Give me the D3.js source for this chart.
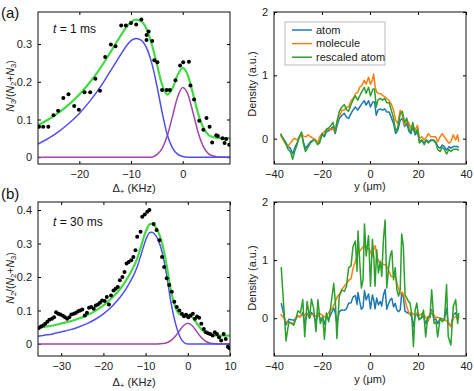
<!DOCTYPE html>
<html><head><meta charset="utf-8">
<script src="https://cdn.jsdelivr.net/npm/d3@7"></script>
<style>
body{margin:0;background:#fff;}
svg{display:block;font-family:"Liberation Sans",Arial,sans-serif;}
</style></head><body>
<svg id="c" width="474" height="391"></svg>
<script>
// ---------- Panel (a) left: fit ----------
const aDotsX = [-27.8,-27.0,-26.0,-25.0,-24.1,-23.1,-22.1,-21.0,-20.1,-19.0,-17.9,-16.9,-16.0,-15.0,-13.9,-13.0,-11.9,-11.0,-10.0,-9.0,-8.0,-7.0,-7.0,-6.6,-5.9,-5.5,-4.9,-4.0,-3.1,-2.5,-1.4,-0.5,0.1,1.2,1.5,2.2,3.2,4.0,4.6,5.2,5.7,6.5,6.8,7.7,8.1,8.4,9.0];
const aDotsY = [0.081,0.081,0.081,0.111,0.123,0.157,0.167,0.136,0.126,0.172,0.172,0.208,0.176,0.266,0.299,0.294,0.349,0.349,0.356,0.352,0.365,0.311,0.324,0.333,0.308,0.257,0.252,0.178,0.178,0.178,0.204,0.243,0.252,0.253,0.19,0.153,0.097,0.073,0.104,0.081,0.039,0.058,0.056,0.05,0.038,0.048,0.033];
const aFitX = [-28,-26,-24,-22,-20,-18,-16,-14,-12,-11,-10,-9,-8,-7,-6,-5,-4,-3,-2,-1,0,1,2,3,4,5,6,7,9.15];
const aBlue = [0.035,0.05,0.068,0.09,0.116,0.148,0.185,0.228,0.272,0.293,0.309,0.315,0.31,0.29,0.25,0.19,0.12,0.06,0.025,0.008,0.002,0,0,0,0,0,0,0,0];
const aPurple = [0,0,0,0,0,0,0,0,0,0,0,0,0,0,0,0.007,0.023,0.056,0.107,0.159,0.185,0.167,0.118,0.065,0.028,0.009,0.003,0.0005,0];
const aGreen = [0.085,0.1,0.118,0.14,0.166,0.198,0.235,0.278,0.322,0.343,0.359,0.365,0.36,0.34,0.3,0.247,0.193,0.166,0.182,0.217,0.237,0.217,0.168,0.115,0.078,0.059,0.053,0.0505,0.05];

// ---------- Panel (a) right: density ----------
const aRX = [-37.3,-36.2,-35.2,-34.1,-33.2,-32.2,-31.4,-30.4,-29.4,-28.5,-27.8,-26.9,-25.8,-24.8,-23.7,-22.8,-21.8,-21.0,-20.0,-19.0,-18.2,-17.2,-16.2,-15.4,-14.5,-13.8,-12.8,-11.7,-10.7,-9.8,-8.9,-7.9,-7.1,-6.1,-5.1,-4.3,-3.4,-2.4,-1.6,-0.6,0.2,1.2,1.9,2.6,3.3,4.3,5.2,6.1,7.0,8.0,8.8,9.8,10.7,11.6,12.6,13.5,14.4,15.3,16.3,17.1,17.8,18.8,19.8,20.6,21.6,22.6,23.4,24.3,25.3,26.4,27.4,28.2,29.2,30.1,31.0,31.9,32.9,33.7,34.7,35.7,36.5,37.0];
const aAtom = [0.06,0.005,-0.05,-0.125,-0.15,-0.24,-0.15,-0.07,0.03,0.08,-0.05,-0.15,-0.1,-0.05,-0.02,-0.02,-0.07,-0.05,0.06,0.03,0.11,0.125,0.16,0.19,0.08,0.19,0.32,0.37,0.4,0.34,0.32,0.4,0.45,0.5,0.45,0.5,0.55,0.6,0.53,0.6,0.5,0.58,0.58,0.37,0.45,0.47,0.45,0.47,0.42,0.42,0.34,0.24,0.08,0.135,0.29,0.32,0.19,0.24,0.11,0.08,0.19,0.06,0.11,-0.05,-0.02,-0.07,-0.02,-0.05,-0.02,-0.02,-0.05,-0.125,-0.15,-0.1,-0.125,-0.18,-0.125,-0.15,-0.125,-0.125,-0.125,-0.14];
const aRescaled = [0.08,0.007,-0.068,-0.169,-0.203,-0.324,-0.203,-0.095,0.041,0.108,-0.068,-0.203,-0.135,-0.068,-0.027,-0.027,-0.095,-0.068,0.081,0.041,0.149,0.169,0.216,0.257,0.108,0.257,0.432,0.5,0.54,0.459,0.432,0.54,0.608,0.675,0.608,0.675,0.743,0.81,0.716,0.81,0.675,0.783,0.783,0.5,0.608,0.635,0.608,0.635,0.567,0.567,0.459,0.324,0.108,0.182,0.392,0.432,0.257,0.324,0.149,0.108,0.257,0.081,0.149,-0.068,-0.027,-0.095,-0.027,-0.068,-0.027,-0.027,-0.068,-0.169,-0.203,-0.135,-0.169,-0.243,-0.169,-0.203,-0.169,-0.169,-0.169,-0.189];
const aMolX = [-37.3,-36.2,-35.2,-34.1,-33.2,-32.2,-31.4,-30.4,-29.4,-28.5,-27.6,-26.6,-25.8,-24.8,-23.7,-22.8,-21.8,-21.0,-20.0,-19.0,-18.2,-17.2,-16.2,-15.4,-14.5,-13.5,-12.6,-11.7,-10.7,-9.8,-8.9,-7.9,-7.1,-6.1,-5.1,-4.3,-3.4,-2.4,-1.6,-0.6,0.2,0.9,1.5,2.2,2.9,3.7,4.6,5.4,6.2,7.0,8.0,8.8,9.8,10.7,11.6,12.6,13.5,14.4,15.3,16.3,17.1,17.8,18.8,19.8,20.6,21.6,22.6,23.4,24.3,25.3,26.4,27.4,28.2,29.2,30.1,31.0,31.9,32.9,33.7,34.7,35.7,36.5,37.0];
const aMol = [0.06,-0.02,-0.08,-0.12,-0.07,-0.02,0.005,-0.02,0.02,0.06,0.04,0.03,0.06,0.03,0.005,-0.01,-0.07,0.03,0.08,0.11,0.135,0.16,0.135,0.16,0.11,0.32,0.37,0.45,0.45,0.5,0.5,0.6,0.63,0.71,0.73,0.81,0.84,0.92,0.86,0.97,0.86,0.92,1.02,0.81,0.73,0.71,0.71,0.68,0.66,0.63,0.6,0.55,0.45,0.29,0.24,0.45,0.37,0.21,0.29,0.24,0.16,0.21,0.135,0.21,0.005,0.03,-0.02,0.02,0.08,0.03,0.03,0.03,-0.05,0.03,0.08,0.03,-0.02,-0.07,-0.05,0.06,-0.02,0.06,-0.05];

// ---------- Panel (b) left: fit ----------
const bDotsX = [-35.3,-34.8,-34.3,-33.8,-33.3,-32.8,-32.2,-31.7,-31.2,-30.7,-30.2,-29.6,-29.1,-28.6,-28.1,-27.6,-27.0,-26.5,-26.0,-25.5,-25.0,-24.4,-23.9,-23.4,-22.9,-22.3,-21.8,-21.3,-20.8,-20.3,-19.7,-19.2,-18.7,-18.2,-17.6,-17.1,-16.6,-16.1,-15.5,-15.0,-14.5,-14.0,-13.4,-12.9,-12.4,-12.0,-11.2,-10.8,-10.2,-9.6,-9.1,-8.1,-7.4,-6.7,-6.1,-5.6,-5.0,-4.4,-3.8,-3.2,-2.6,-2.0,-1.4,-0.9,-0.4,0.1,0.6,1.2,1.7,2.2,2.7,3.2,3.8,4.3,4.8,5.3,5.9,6.4,6.9,7.4,7.9,8.5,9.0,9.5,9.9];
const bDotsY = [0.048,0.052,0.055,0.06,0.066,0.072,0.075,0.08,0.095,0.09,0.088,0.084,0.08,0.075,0.08,0.088,0.09,0.093,0.098,0.1,0.103,0.085,0.093,0.108,0.11,0.105,0.115,0.118,0.123,0.13,0.128,0.14,0.118,0.145,0.16,0.165,0.17,0.19,0.2,0.215,0.24,0.245,0.25,0.26,0.28,0.32,0.335,0.38,0.387,0.395,0.4,0.358,0.34,0.31,0.26,0.23,0.196,0.176,0.156,0.126,0.11,0.1,0.09,0.083,0.087,0.08,0.085,0.09,0.075,0.082,0.078,0.06,0.045,0.035,0.032,0.03,0.025,0.035,0.03,0.02,0.01,0.03,0.015,-0.008,-0.013];
const bFitX = [-35.5,-34,-32,-30,-28,-26,-24,-22,-20,-18,-16,-14,-12,-11,-10,-9,-8.5,-8,-7,-6,-5,-4,-3,-2,-1,0,1,2,3,4,5,6,7,10];
const bBlue = [0.023,0.026,0.03,0.036,0.042,0.05,0.06,0.073,0.09,0.112,0.14,0.178,0.23,0.27,0.31,0.333,0.334,0.33,0.31,0.27,0.205,0.125,0.065,0.025,0.005,0,0,0,0,0,0,0,0,0];
const bPurple = [0,0,0,0,0,0,0,0,0,0,0,0,0,0,0,0,0,0,0,0.001,0.0035,0.0099,0.022,0.039,0.055,0.062,0.055,0.039,0.022,0.0099,0.0035,0.001,0,0];
const bGreen = [0.048,0.051,0.055,0.061,0.067,0.075,0.085,0.098,0.115,0.137,0.165,0.203,0.255,0.295,0.335,0.358,0.359,0.355,0.335,0.296,0.234,0.16,0.112,0.089,0.085,0.087,0.08,0.064,0.047,0.035,0.029,0.026,0.025,0.025];

// ---------- Panel (b) right: density ----------
const bRX = [-37.0,-35.0,-33.8,-32.9,-31.8,-30.8,-30.0,-29.0,-28.0,-27.2,-26.2,-25.2,-24.4,-23.5,-22.5,-21.7,-20.7,-19.7,-19.0,-18.2,-17.2,-16.2,-15.1,-14.4,-13.8,-12.8,-11.7,-10.7,-9.8,-8.9,-7.9,-7.1,-6.1,-5.4,-5.0,-4.3,-3.6,-2.9,-2.3,-1.6,-0.6,0.2,1.0,1.6,2.1,2.8,3.5,4.3,4.9,5.6,6.3,7.0,7.7,8.4,9.1,9.8,10.5,11.2,11.9,12.6,13.2,13.9,14.6,15.3,16.0,16.7,17.4,18.1,18.8,19.5,20.4,21.3,22.3,23.2,24.1,25.0,25.7,26.7,27.5,28.2,29.2,30.1,31.0,31.9,32.6,33.7,34.7,35.7,36.5,37.0];
const bRescaled = [0.88,-0.39,-0.06,-0.08,-0.12,0,0.13,0.09,0.32,-0.32,0.29,0,0.33,0.17,-0.23,0.32,-0.09,0.03,-0.36,0.09,-0.06,0.26,0.6,0.26,-0.35,0.38,0.49,0.46,0.55,0.87,0.9,1.23,1.33,0.81,1.5,0.98,0.52,0.66,1.62,1.07,1.42,0.55,1.36,1.04,0.55,1.18,0.78,0.98,0.72,1.36,1.69,0.52,0.84,1.07,1.16,0.66,0.87,0.49,0.38,0.49,1.45,1.24,0.4,0.35,0.29,0.26,0.06,-0.49,0.14,0.26,-0.03,0,0.14,-0.32,0.03,0.03,0.49,-0.09,-0.06,-0.32,0,-0.06,-0.03,0.58,-0.32,-0.46,0.2,0.32,-0.09,0.09];
const bAtom = [0.26,-0.115,-0.018,-0.024,-0.035,0,0.038,0.026,0.094,-0.094,0.085,0,0.097,0.05,-0.068,0.094,-0.026,0.009,-0.106,0.026,-0.018,0.076,0.176,0.076,-0.103,0.112,0.144,0.135,0.162,0.256,0.265,0.362,0.391,0.238,0.441,0.288,0.153,0.194,0.476,0.315,0.418,0.162,0.4,0.306,0.162,0.347,0.229,0.288,0.212,0.4,0.497,0.153,0.247,0.315,0.341,0.194,0.256,0.144,0.112,0.144,0.426,0.365,0.118,0.103,0.085,0.076,0.018,-0.144,0.041,0.076,-0.009,0,0.041,-0.094,0.009,0.009,0.144,-0.026,-0.018,-0.094,0,-0.018,-0.009,0.171,-0.094,-0.135,0.059,0.094,-0.026,0.026];
const bMolX = [-37.3,-36.2,-35.2,-34.1,-33.2,-32.2,-31.4,-30.4,-29.4,-28.5,-27.6,-26.6,-25.8,-24.8,-23.7,-22.8,-21.8,-21.0,-20.0,-19.0,-18.2,-17.2,-16.2,-15.4,-14.5,-13.5,-12.6,-11.7,-10.7,-9.8,-8.9,-7.9,-7.1,-6.1,-5.1,-4.3,-3.4,-2.4,-1.6,-0.6,0.2,0.9,1.5,2.2,2.9,3.7,4.6,5.4,6.2,7.0,8.0,8.8,9.8,10.7,11.6,12.6,13.5,14.4,15.3,16.3,17.1,17.8,18.8,19.8,20.6,21.6,22.6,23.4,24.3,25.3,26.4,27.4,28.2,29.2,30.1,31.0,31.9,32.9,33.7,34.7,35.7,36.5,37.0];
const bMol = [0.07,0.02,-0.05,-0.07,-0.08,-0.1,-0.05,0.05,0.02,0.06,0.04,0.08,0.05,0.07,0.06,0.04,0.05,0.08,0.06,0.02,0.03,0.1,0.15,0.2,0.28,0.38,0.42,0.5,0.55,0.6,0.65,0.68,0.85,0.98,1.1,1.15,1.2,1.25,1.18,1.2,1.15,1.05,1.18,1.25,1.05,0.98,0.95,0.93,0.92,0.9,0.8,0.72,0.72,0.7,0.55,0.42,0.45,0.35,0.2,0.08,0.1,0.08,0.05,0.1,0.05,0.08,0.06,0,-0.05,0.12,0.08,0,0.02,0,-0.03,-0.02,-0.05,-0.08,-0.15,0,0.03,0,0];

// ---------- tick labels ----------
const aLeftXTicks = [-20,-10,0];
const aLeftYTicks = [0,0.1,0.2,0.3];
const bLeftXTicks = [-30,-20,-10,0,10];
const bLeftYTicks = [0,0.1,0.2,0.3,0.4];
const rightXTicks = [-40,-20,0,20,40];
const rightYTicks = [0,1,2];
const legendLabels = ["atom","molecule","rescaled atom"];

const C = {fg:"#44d944", fb:"#4f4ff0", fp:"#a246a8", atom:"#1f77b4", mol:"#ff7f0e", res:"#2ca02c"};
const svg = d3.select("#c");

function frame(x0,x1,y0,y1,xd,yd,xt,yt,fmtY){
  const x = d3.scaleLinear().domain(xd).range([x0,x1]);
  const y = d3.scaleLinear().domain(yd).range([y1,y0]);
  const g = svg.append("g");
  const ts = 3;
  g.append("g").attr("transform",`translate(0,${y1})`)
    .call(d3.axisBottom(x).tickValues(xt).tickSizeInner(-ts).tickSizeOuter(0).tickPadding(6))
    .call(s=>{s.select(".domain").remove();s.selectAll("text").attr("font-size",11).attr("fill","#222");});
  g.append("g").attr("transform",`translate(0,${y0})`)
    .call(d3.axisTop(x).tickValues(xt).tickSizeInner(-ts).tickSizeOuter(0).tickFormat(""))
    .call(s=>s.select(".domain").remove());
  g.append("g").attr("transform",`translate(${x0},0)`)
    .call(d3.axisLeft(y).tickValues(yt).tickSizeInner(-ts).tickSizeOuter(0).tickPadding(6).tickFormat(fmtY))
    .call(s=>{s.select(".domain").remove();s.selectAll("text").attr("font-size",11).attr("fill","#222");});
  g.append("g").attr("transform",`translate(${x1},0)`)
    .call(d3.axisRight(y).tickValues(yt).tickSizeInner(-ts).tickSizeOuter(0).tickFormat(""))
    .call(s=>s.select(".domain").remove());
  const clipId = "cl"+Math.round(x0)+"_"+Math.round(y0);
  svg.append("clipPath").attr("id",clipId).append("rect").attr("x",x0).attr("y",y0).attr("width",x1-x0).attr("height",y1-y0);
  const plot = svg.append("g").attr("clip-path",`url(#${clipId})`);
  svg.append("rect").attr("x",x0).attr("y",y0).attr("width",x1-x0).attr("height",y1-y0)
    .attr("fill","none").attr("stroke","#111").attr("stroke-width",1);
  return {x,y,plot};
}
function line(p,xs,ys,color,w,curve){
  const l = d3.line().x((d,i)=>p.x(xs[i])).y(d=>p.y(d)).curve(curve||d3.curveLinear);
  p.plot.append("path").datum(ys).attr("d",l).attr("fill","none").attr("stroke",color).attr("stroke-width",w).attr("stroke-linejoin","round");
}
function dots(p,xs,ys){
  p.plot.selectAll(null).data(ys).enter().append("circle")
    .attr("cx",(d,i)=>p.x(xs[i])).attr("cy",d=>p.y(d)).attr("r",2).attr("fill","#000");
}
const fmtL = d=> d===0?"0":d3.format(".1f")(d);
const fmtR = d3.format("d");

// (a) left
const pa = frame(38,230,12,164,[-28,9.15],[-0.018,0.385],aLeftXTicks,aLeftYTicks,fmtL);
line(pa,aFitX,aPurple,C.fp,1.5,d3.curveMonotoneX);
line(pa,aFitX,aBlue,C.fb,1.5,d3.curveMonotoneX);
line(pa,aFitX,aGreen,C.fg,2.2,d3.curveMonotoneX);
dots(pa,aDotsX,aDotsY);

// (a) right
const pra = frame(274,466,12,164,[-40,40],[-0.4,2],rightXTicks,rightYTicks,fmtR);
line(pra,aRX,aAtom,C.atom,1.5);
line(pra,aMolX,aMol,C.mol,1.5);
line(pra,aRX,aRescaled,C.res,1.5);

// (b) left
const pb = frame(38,230,202,356,[-35.5,10],[-0.036,0.424],bLeftXTicks,bLeftYTicks,fmtL);
line(pb,bFitX,bPurple,C.fp,1.5,d3.curveMonotoneX);
line(pb,bFitX,bBlue,C.fb,1.5,d3.curveMonotoneX);
line(pb,bFitX,bGreen,C.fg,2.2,d3.curveMonotoneX);
dots(pb,bDotsX,bDotsY);

// (b) right
const prb = frame(274,466,202,356,[-40,40],[-0.65,2],rightXTicks,rightYTicks,fmtR);
line(prb,bRX,bAtom,C.atom,1.5);
line(prb,bMolX,bMol,C.mol,1.5);
line(prb,bRX,bRescaled,C.res,1.5);

// legend
const lg = svg.append("g");
lg.append("rect").attr("x",285).attr("y",22).attr("width",100).attr("height",43).attr("fill","#fff").attr("stroke","#bbb").attr("stroke-width",1);
[C.atom,C.mol,C.res].forEach((c,i)=>{
  const yy = 30 + i*13.6;
  lg.append("line").attr("x1",292).attr("x2",312).attr("y1",yy).attr("y2",yy).attr("stroke",c).attr("stroke-width",1.5);
  lg.append("text").attr("x",316).attr("y",yy+3.8).attr("font-size",11).attr("fill","#222").text(legendLabels[i]);
});

// texts
function txt(x,y,s,size,anchor){return svg.append("text").attr("x",x).attr("y",y).attr("font-size",size).attr("text-anchor",anchor||"start").attr("fill","#111").text(s);}
txt(1,18,"(a)",15);
txt(1,199,"(b)",15);
function tlabel(x,y,num){
  const t = svg.append("text").attr("x",x).attr("y",y).attr("font-size",12).attr("fill","#111");
  t.append("tspan").attr("font-style","italic").text("t");
  t.append("tspan").text(" = "+num+" ms");
}
tlabel(53,33,"1");
tlabel(53,226,"30");
function dlabel(cx,y){
  const t = svg.append("text").attr("x",cx).attr("y",y).attr("font-size",11).attr("text-anchor","middle").attr("fill","#222");
  t.append("tspan").text("Δ");
  t.append("tspan").attr("font-size",8).attr("dy",2).text("+");
  t.append("tspan").attr("dy",-2).text(" (KHz)");
}
dlabel(134,192);
dlabel(134,386);
txt(370,190,"y (μm)",11,"middle").attr("fill","#222");
txt(370,383,"y (μm)",11,"middle").attr("fill","#222");
function nlabel(cx,cy,a){
  const t = svg.append("text").attr("transform",`translate(${cx},${cy}) rotate(-90)`).attr("font-size",10.5).attr("text-anchor","middle").attr("fill","#222");
  const sub = (s)=>{t.append("tspan").attr("font-size",7.5).attr("dy",2).text(s); t.append("tspan").attr("dy",-2).text("");};
  t.append("tspan").attr("font-style","italic").text("N");
  t.append("tspan").attr("font-size",7.5).attr("dy",2).text(a);
  t.append("tspan").attr("dy",-2).text("/(");
  t.append("tspan").attr("font-style","italic").text("N");
  t.append("tspan").attr("font-size",7.5).attr("dy",2).text("2");
  t.append("tspan").attr("dy",-2).text("+");
  t.append("tspan").attr("font-style","italic").text("N");
  t.append("tspan").attr("font-size",7.5).attr("dy",2).text("3");
  t.append("tspan").attr("dy",-2).text(")");
}
nlabel(14,86,"3");
nlabel(14,278,"2");
svg.append("text").attr("transform","translate(256,84) rotate(-90)").attr("font-size",11).attr("text-anchor","middle").attr("fill","#222").text("Density (a.u.)");
svg.append("text").attr("transform","translate(256,278) rotate(-90)").attr("font-size",11).attr("text-anchor","middle").attr("fill","#222").text("Density (a.u.)");
</script>
</body></html>
